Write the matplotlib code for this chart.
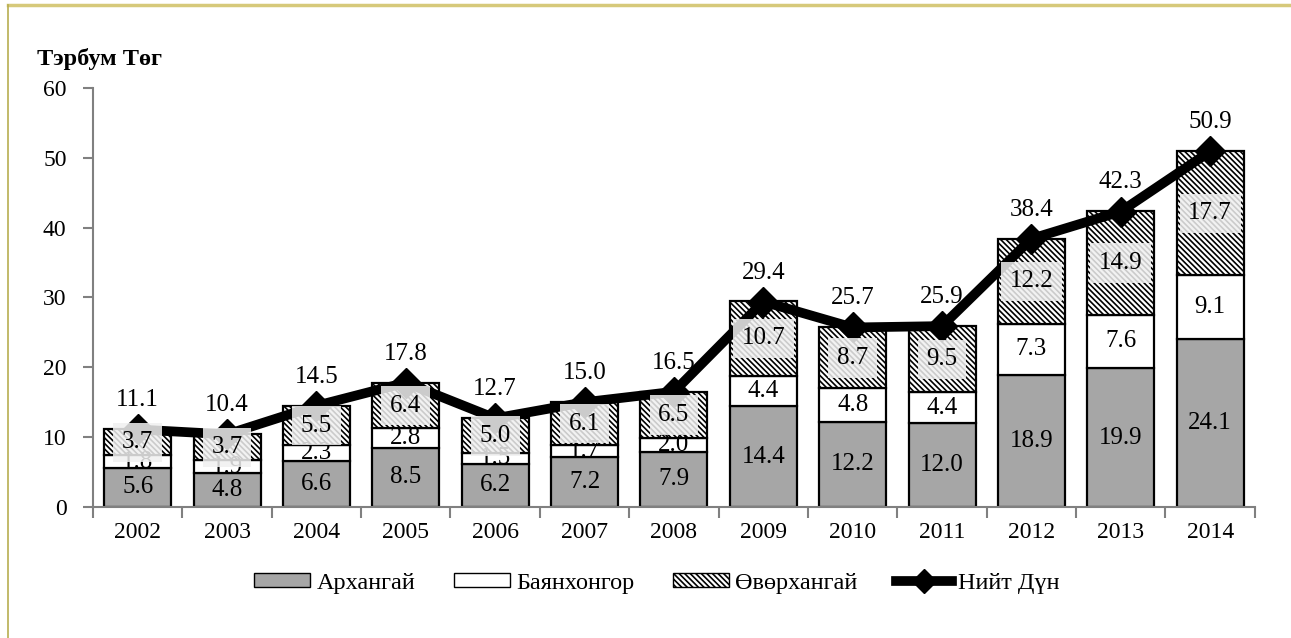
import numpy as np
import matplotlib.pyplot as plt
from matplotlib.patches import Patch
from matplotlib.lines import Line2D

plt.rcParams['font.family'] = ['Liberation Serif', 'DejaVu Serif']
plt.rcParams['hatch.linewidth'] = 1.2

years = ['2002', '2003', '2004', '2005', '2006', '2007', '2008',
         '2009', '2010', '2011', '2012', '2013', '2014']
arkhangai = [5.6, 4.8, 6.6, 8.5, 6.2, 7.2, 7.9, 14.4, 12.2, 12.0, 18.9, 19.9, 24.1]
bayankhongor = [1.8, 1.9, 2.3, 2.8, 1.5, 1.7, 2.0, 4.4, 4.8, 4.4, 7.3, 7.6, 9.1]
uvurkhangai = [3.7, 3.7, 5.5, 6.4, 5.0, 6.1, 6.5, 10.7, 8.7, 9.5, 12.2, 14.9, 17.7]
total = [11.1, 10.4, 14.5, 17.8, 12.7, 15.0, 16.5, 29.4, 25.7, 25.9, 38.4, 42.3, 50.9]

x = np.arange(len(years))
a = np.array(arkhangai)
b = np.array(bayankhongor)
u = np.array(uvurkhangai)

fig = plt.figure(figsize=(12.91, 6.38), dpi=100)
ax = fig.add_axes([0.072, 0.2053, 0.9, 0.657])

w = 0.75
hatch = '\\' * 6
ax.bar(x, a, w, color='#a6a6a6', edgecolor='black', linewidth=1.6, zorder=2)
ax.bar(x, b, w, bottom=a, color='white', edgecolor='black', linewidth=1.6, zorder=2)
ax.bar(x, u, w, bottom=a + b, color='white', edgecolor='black', linewidth=1.6,
       hatch=hatch, zorder=2)

ax.plot(x, total, color='black', linewidth=7, marker='D', markersize=15, zorder=3)

fs = 18
for i in range(len(years)):
    ax.text(x[i], a[i] / 2, f'{a[i]:.1f}', ha='center', va='center', fontsize=fs, zorder=4)
    ax.text(x[i], a[i] + b[i] / 2, f'{b[i]:.1f}', ha='center', va='center', fontsize=fs, zorder=4)
    ax.text(x[i], a[i] + b[i] + u[i] / 2, f'{u[i]:.1f}', ha='center', va='center', fontsize=fs,
            zorder=5, bbox=dict(boxstyle='square,pad=0.35', facecolor='#f0f0f0', alpha=0.85,
                                edgecolor='none'))
    ax.annotate(f'{total[i]:.1f}', (x[i], total[i]), xytext=(0, 13), textcoords='offset points',
                ha='center', va='bottom', fontsize=fs, zorder=5)

ax.set_xlim(-0.5, len(years) - 0.5)
ax.set_ylim(0, 60)
ax.set_yticks(range(0, 61, 10))
ax.set_xticks(x)
ax.set_xticklabels(years)
ax.set_xticks(np.arange(-0.5, len(years), 1), minor=True)
ax.tick_params(axis='x', which='major', length=0, labelsize=17, pad=11)
ax.tick_params(axis='x', which='minor', length=8, width=1.5, color='#808080', direction='out')
ax.tick_params(axis='y', length=7, width=1.5, color='#808080', labelsize=17, pad=12)
for s in ['top', 'right']:
    ax.spines[s].set_visible(False)
for s in ['left', 'bottom']:
    ax.spines[s].set_color('#808080')
    ax.spines[s].set_linewidth(1.5)

fig.text(0.029, 0.898, 'Тэрбум Төг', fontsize=17.5, fontweight='bold', ha='left', va='baseline')

handles = [
    Patch(facecolor='#a6a6a6', edgecolor='black', label='Архангай'),
    Patch(facecolor='white', edgecolor='black', label='Баянхонгор'),
    Patch(facecolor='white', edgecolor='black', hatch=hatch, label='Өвөрхангай'),
    Line2D([0], [0], color='black', linewidth=7, marker='D', markersize=12, label='Нийт Дүн'),
]
fig.legend(handles=handles, loc='center', bbox_to_anchor=(0.509, 0.086), ncol=4, frameon=False,
           fontsize=17.5, handlelength=2.3, handleheight=0.5, handletextpad=0.25,
           columnspacing=1.6)

# frame lines on top and left
fig.add_artist(Line2D([0.0062, 1], [0.992, 0.992], color='#d6c97a', linewidth=2.5,
                      transform=fig.transFigure))
fig.add_artist(Line2D([0.0062, 0.0062], [0, 0.992], color='#b8ae50', linewidth=1.2,
                      transform=fig.transFigure))

fig.savefig('out.png', dpi=100)
